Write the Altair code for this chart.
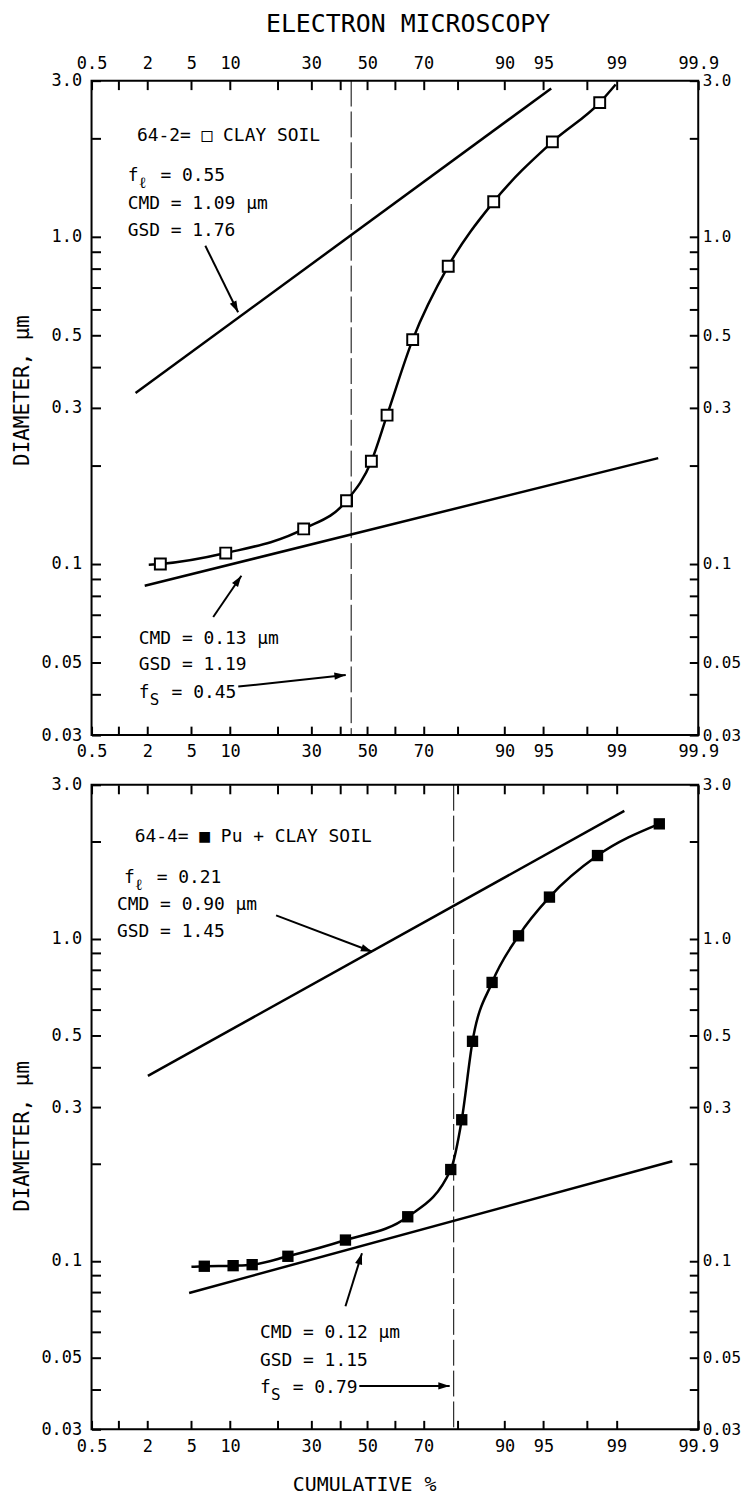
import altair as alt
import pandas as pd
from statistics import NormalDist

FONT = "DejaVu Sans Mono"
ND = NormalDist()

# ---------------- axis ticks ----------------
x_tick_pct = [0.5, 1, 2, 5, 10, 20, 30, 40, 50, 60, 70, 80, 90, 95, 98, 99, 99.9]
x_label_pct = {0.5: "0.5", 2: "2", 5: "5", 10: "10", 30: "30", 50: "50", 70: "70",
               90: "90", 95: "95", 99: "99", 99.9: "99.9"}
y_ticks = [3, 2, 1, 0.9, 0.8, 0.7, 0.6, 0.5, 0.4, 0.3, 0.2, 0.1,
           0.09, 0.08, 0.07, 0.06, 0.05, 0.04, 0.03]
y_labels = {3: "3.0", 1: "1.0", 0.5: "0.5", 0.3: "0.3", 0.1: "0.1",
            0.05: "0.05", 0.03: "0.03"}

# ---------------- panel 1: 64-2, clay soil ----------------
p1_pct = [2.66, 9.3, 27.6, 42.3, 51.5, 57.3, 66.4, 77.5, 88.1, 95.8, 98.5]
p1_dia = [0.100, 0.108, 0.128, 0.156, 0.206, 0.285, 0.485, 0.813, 1.28, 1.95, 2.57]
p1_curve_pct = [2.06] + p1_pct + [98.98]
p1_curve_dia = [0.0995] + p1_dia + [2.92]
p1_large_pct = [1.52, 95.7]
p1_large_dia = [0.333, 2.84]
p1_small_pct = [1.88, 99.67]
p1_small_dia = [0.0858, 0.2106]
p1_fs = 44
p1_text = ["64-2= □ CLAY SOIL", "CMD = 1.09 µm", "GSD = 1.76", "CMD = 0.13 µm", "GSD = 1.19"]
p1_text_pct = [1.57, 1.26, 1.26, 1.64, 1.64]
p1_text_dia = [2.03, 1.26, 1.043, 0.0591, 0.0490]
p1_f_sub = ["ℓ", "S"]
p1_f_val = ["= 0.55", "= 0.45"]
p1_f_pct = [1.26, 1.64]
p1_f_dia = [1.535, 0.0403]
p1_arrow_pct1 = [6.51, 7.5, 11.4]
p1_arrow_dia1 = [0.939, 0.0689, 0.0422]
p1_arrow_pct2 = [11.37, 11.97, 42.0]
p1_arrow_dia2 = [0.588, 0.0921, 0.0458]
p1_arrow_angle = [63.8, 304.2, 354.3]

# ---------------- panel 2: 64-4, Pu + clay soil ----------------
p2_pct = [6.39, 10.5, 14.1, 22.9, 41.9, 64.7, 78.2, 81.1, 83.7, 87.8, 92.1, 95.55, 98.42, 99.68]
p2_dia = [0.0962, 0.0966, 0.0973, 0.1033, 0.116, 0.137, 0.192, 0.274, 0.48, 0.731,
          1.02, 1.345, 1.81, 2.27]
p2_curve_pct = [5.02] + p2_pct
p2_curve_dia = [0.0958] + p2_dia
p2_large_pct = [2.02, 99.18]
p2_large_dia = [0.375, 2.49]
p2_small_pct = [4.8, 99.78]
p2_small_dia = [0.0795, 0.2038]
p2_fs = 79
p2_text = ["64-4= ■ Pu + CLAY SOIL", "CMD = 0.90 µm", "GSD = 1.45", "CMD = 0.12 µm", "GSD = 1.15"]
p2_text_pct = [1.49, 0.97, 0.97, 15.8, 15.8]
p2_text_dia = [2.06, 1.269, 1.048, 0.0598, 0.0490]
p2_f_sub = ["ℓ", "S"]
p2_f_val = ["= 0.21", "= 0.79"]
p2_f_pct = [1.15, 15.8]
p2_f_dia = [1.538, 0.0404]
p2_arrow_pct1 = [19.7, 41.9, 47.0]
p2_arrow_dia1 = [1.18, 0.0723, 0.0409]
p2_arrow_pct2 = [51.8, 48.0, 77.9]
p2_arrow_dia2 = [0.91, 0.1056, 0.0409]
p2_arrow_angle = [20.8, 287.4, 0]

# ---------------- helpers ----------------
W = 610
Z = "quantileNormal(datum.pct / 100)"
Z2 = "quantileNormal(datum.pct2 / 100)"
Z_LO = ND.inv_cdf(0.005)
Z_HI = ND.inv_cdf(0.999)
XSCALE = alt.Scale(domain=[Z_LO - 1e-7, Z_HI + 1e-7], nice=False, zero=False)
YSCALE = alt.Scale(type="log", domain=[0.03, 3.0], nice=False, zero=False)
TICK_Z = [ND.inv_cdf(p / 100) for p in x_tick_pct]
X_LABEL_EXPR = "".join("abs(datum.value - (%r)) < 1e-6 ? '%s' : " % (ND.inv_cdf(p / 100), s)
                       for p, s in x_label_pct.items()) + "''"
Y_LABEL_EXPR = "".join("abs(datum.value - %r) < 1e-9 ? '%s' : " % (v, s)
                       for v, s in y_labels.items()) + "''"
ARROW = "M0,0L-1,-0.32L-1,0.32Z"


def xaxis(orient, labels=True, **kw):
    return alt.Axis(orient=orient, values=TICK_Z, labels=labels, labelExpr=X_LABEL_EXPR, **kw)


def yaxis(orient, **kw):
    return alt.Axis(orient=orient, values=y_ticks, labelExpr=Y_LABEL_EXPR, **kw)


def X(axis=None):
    return alt.X("z:Q", scale=XSCALE, axis=axis)


def Y(axis=None):
    return alt.Y("dia:Q", scale=YSCALE, axis=axis)


def txt(df, size, dx=0, dy=0):
    return alt.Chart(df).transform_calculate(z=Z).mark_text(
        align="left", baseline="middle", font=FONT, fontSize=size, dx=dx, dy=dy,
        color="black").encode(x=X(), y=Y(), text="label:N")


def panel(pct, dia, curve_pct, curve_dia, large_pct, large_dia, small_pct, small_dia, fs,
          text, text_pct, text_dia, f_sub, f_val, f_pct, f_dia,
          a_pct1, a_dia1, a_pct2, a_dia2, a_ang, filled, height,
          top_labels, bottom_title, title_y):
    bottom_kw = dict(title=None)
    if bottom_title:
        bottom_kw = dict(title=bottom_title, titleX=274, titlePadding=21, titleFontSize=20)
    curve = alt.Chart(pd.DataFrame({"pct": curve_pct, "dia": curve_dia})).transform_calculate(
        z=Z).mark_line(interpolate="monotone", color="black", strokeWidth=2.5).encode(
        x=X(xaxis("bottom", **bottom_kw)),
        y=Y(yaxis("left", title="DIAMETER, µm", titleY=title_y)))
    if filled:
        mk = alt.MarkDef(type="square", size=130, color="black", opacity=1)
    else:
        mk = alt.MarkDef(type="square", size=120, fill="white", stroke="black",
                         strokeWidth=2, opacity=1)
    pts = alt.Chart(pd.DataFrame({"pct": pct, "dia": dia})).transform_calculate(
        z=Z).mark_point().encode(
        x=X(xaxis("top", labels=top_labels, title=None)),
        y=Y(yaxis("right", title=None)))
    pts.mark = mk
    lines_df = pd.DataFrame({"pct": large_pct + small_pct, "dia": large_dia + small_dia,
                             "grp": ["large"] * len(large_pct) + ["small"] * len(small_pct)})
    lines = alt.Chart(lines_df).transform_calculate(z=Z).mark_line(
        color="black", strokeWidth=2.5).encode(x=X(), y=Y(), detail="grp:N")
    dash = alt.Chart(pd.DataFrame({"pct": [fs]})).transform_calculate(z=Z).mark_rule(
        color="black", strokeWidth=1, strokeDash=[26, 5]).encode(x=X())
    texts = txt(pd.DataFrame({"pct": text_pct, "dia": text_dia, "label": text}), 18)
    f_main = txt(pd.DataFrame({"pct": f_pct, "dia": f_dia, "label": ["f"] * len(f_pct)}), 18)
    f_subs = txt(pd.DataFrame({"pct": f_pct, "dia": f_dia, "label": f_sub}), 16, dx=11, dy=7)
    f_vals = txt(pd.DataFrame({"pct": f_pct, "dia": f_dia, "label": f_val}), 18, dx=33)
    arr_df = pd.DataFrame({"pct": a_pct1, "dia": a_dia1, "pct2": a_pct2, "dia2": a_dia2})
    arrows = alt.Chart(arr_df).transform_calculate(z=Z, z2=Z2).mark_rule(
        color="black", strokeWidth=2).encode(x=X(), y=Y(), x2="z2:Q", y2="dia2:Q")
    head_df = pd.DataFrame({"pct": a_pct2, "dia": a_dia2, "ang": a_ang})
    heads = alt.Chart(head_df).transform_calculate(z=Z).mark_point(
        shape=ARROW, filled=True, color="black", size=520, opacity=1).encode(
        x=X(), y=Y(), angle=alt.Angle("ang:Q", scale=None))
    return alt.layer(curve, pts, lines, dash, texts, f_main, f_subs, f_vals, arrows,
                     heads).resolve_axis(x="independent", y="independent").properties(
        width=W, height=height)


top = panel(p1_pct, p1_dia, p1_curve_pct, p1_curve_dia, p1_large_pct, p1_large_dia,
            p1_small_pct, p1_small_dia, p1_fs, p1_text, p1_text_pct, p1_text_dia,
            p1_f_sub, p1_f_val, p1_f_pct, p1_f_dia, p1_arrow_pct1, p1_arrow_dia1,
            p1_arrow_pct2, p1_arrow_dia2, p1_arrow_angle, False, 658, True, None, 311)
bottom = panel(p2_pct, p2_dia, p2_curve_pct, p2_curve_dia, p2_large_pct, p2_large_dia,
               p2_small_pct, p2_small_dia, p2_fs, p2_text, p2_text_pct, p2_text_dia,
               p2_f_sub, p2_f_val, p2_f_pct, p2_f_dia, p2_arrow_pct1, p2_arrow_dia1,
               p2_arrow_pct2, p2_arrow_dia2, p2_arrow_angle, True, 648, False,
               "CUMULATIVE %", 353)

chart = alt.vconcat(top, bottom, spacing=50, bounds="flush").properties(
    title=alt.TitleParams("ELECTRON MICROSCOPY", font=FONT, fontSize=25, fontWeight="normal",
                          anchor="middle", dx=32, offset=17, color="black"),
    padding={"left": 3, "top": 0, "right": 0, "bottom": 0},
).configure_view(stroke="black", strokeWidth=2).configure_axis(
    tickSize=9, tickWidth=2, tickColor="black", offset=-9, domain=False, grid=False,
    labelFont=FONT, labelFontSize=17, labelColor="black", labelOverlap=False,
    titleFont=FONT, titleFontSize=21, titleFontWeight="normal", titleColor="black",
).configure_axisX(labelFlush=False).configure_axisLeft(
    labelPadding=10, titlePadding=8).configure_axisRight(
    labelPadding=4, labelFontSize=16).configure_axisTop(
    labelPadding=8).configure_axisBottom(labelPadding=9)

chart.save("out.html", embed_options={"renderer": "svg", "actions": False})
